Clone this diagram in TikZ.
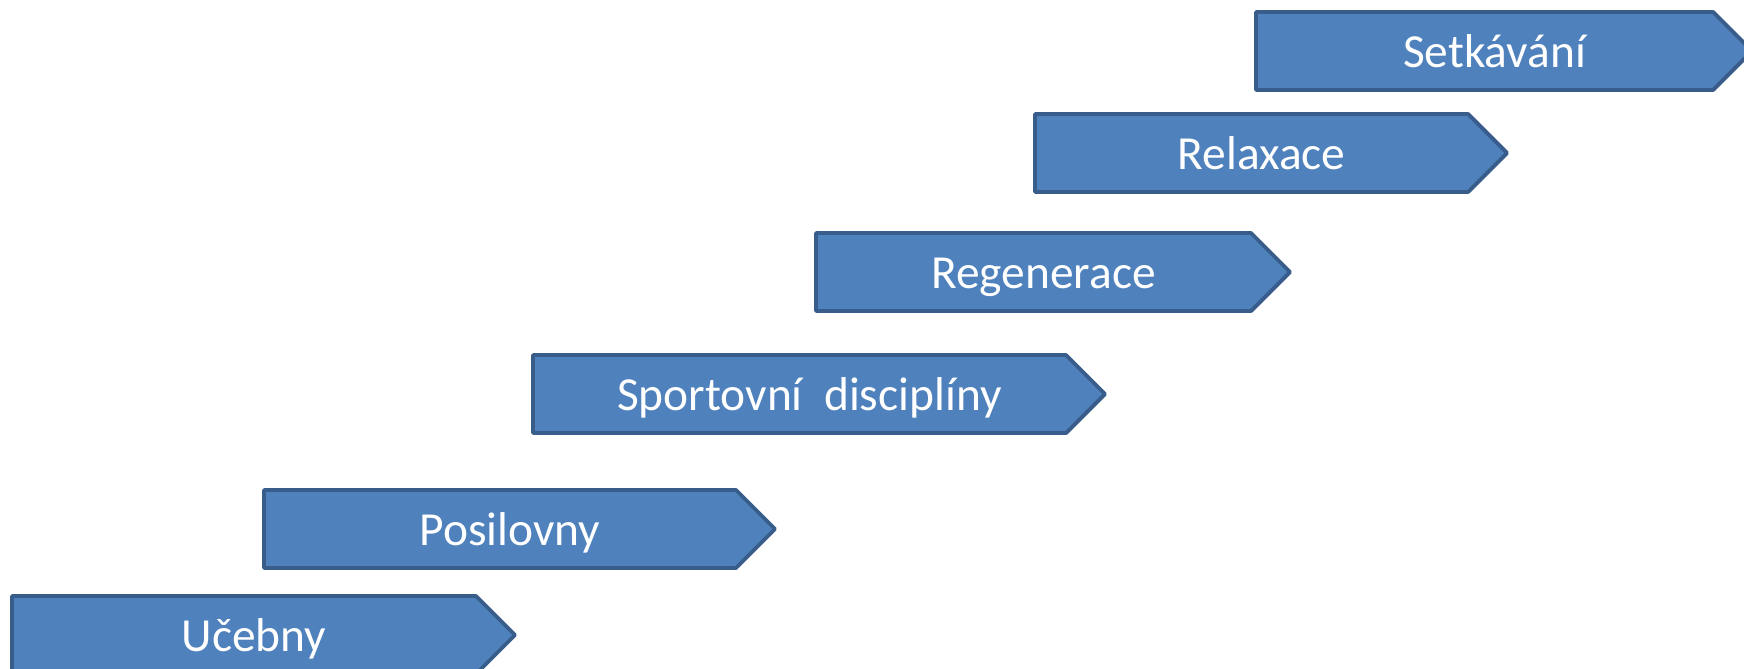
\documentclass[tikz,border=0pt]{standalone}
\usepackage{fontspec}
\setmainfont{Carlito}
\usepackage{tikz}

\definecolor{barfill}{HTML}{4F81BD}
\definecolor{barline}{HTML}{385D8A}

\tikzset{
  bar/.style={fill=barfill, draw=barline, line width=2.2pt, line join=round},
  bartext/.style={text=white, inner sep=0pt, anchor=center,
    text height=17.4pt, text depth=0pt, font=\fontsize{27}{32}\selectfont}
}

\begin{document}
\begin{tikzpicture}[x=0.02cm, y=-0.02cm]

  \useasboundingbox (0,0) rectangle (1744,669);

  % left x / top y / end of body / label
  \foreach \nm/\x/\y/\xr/\txt in {
      setkavani/1256/12/1713/Setkávání,
      relaxace/1035/114/1468/Relaxace,
      regenerace/816/233/1251/Regenerace,
      sport/533/355/1066/Sportovní~~disciplíny,
      posilovny/264/490/736/Posilovny,
      ucebny/12/596/476/Učebny}
  {
    \draw[bar] (\x,\y) -- (\xr,\y) -- ++(39,39) -- ++(-39,39) -- (\x,\y+78) -- cycle;
    \node[bartext] (\nm) at ({(\x+\xr)/2+10}, \y+40) {\txt};
  }

\end{tikzpicture}
\end{document}
